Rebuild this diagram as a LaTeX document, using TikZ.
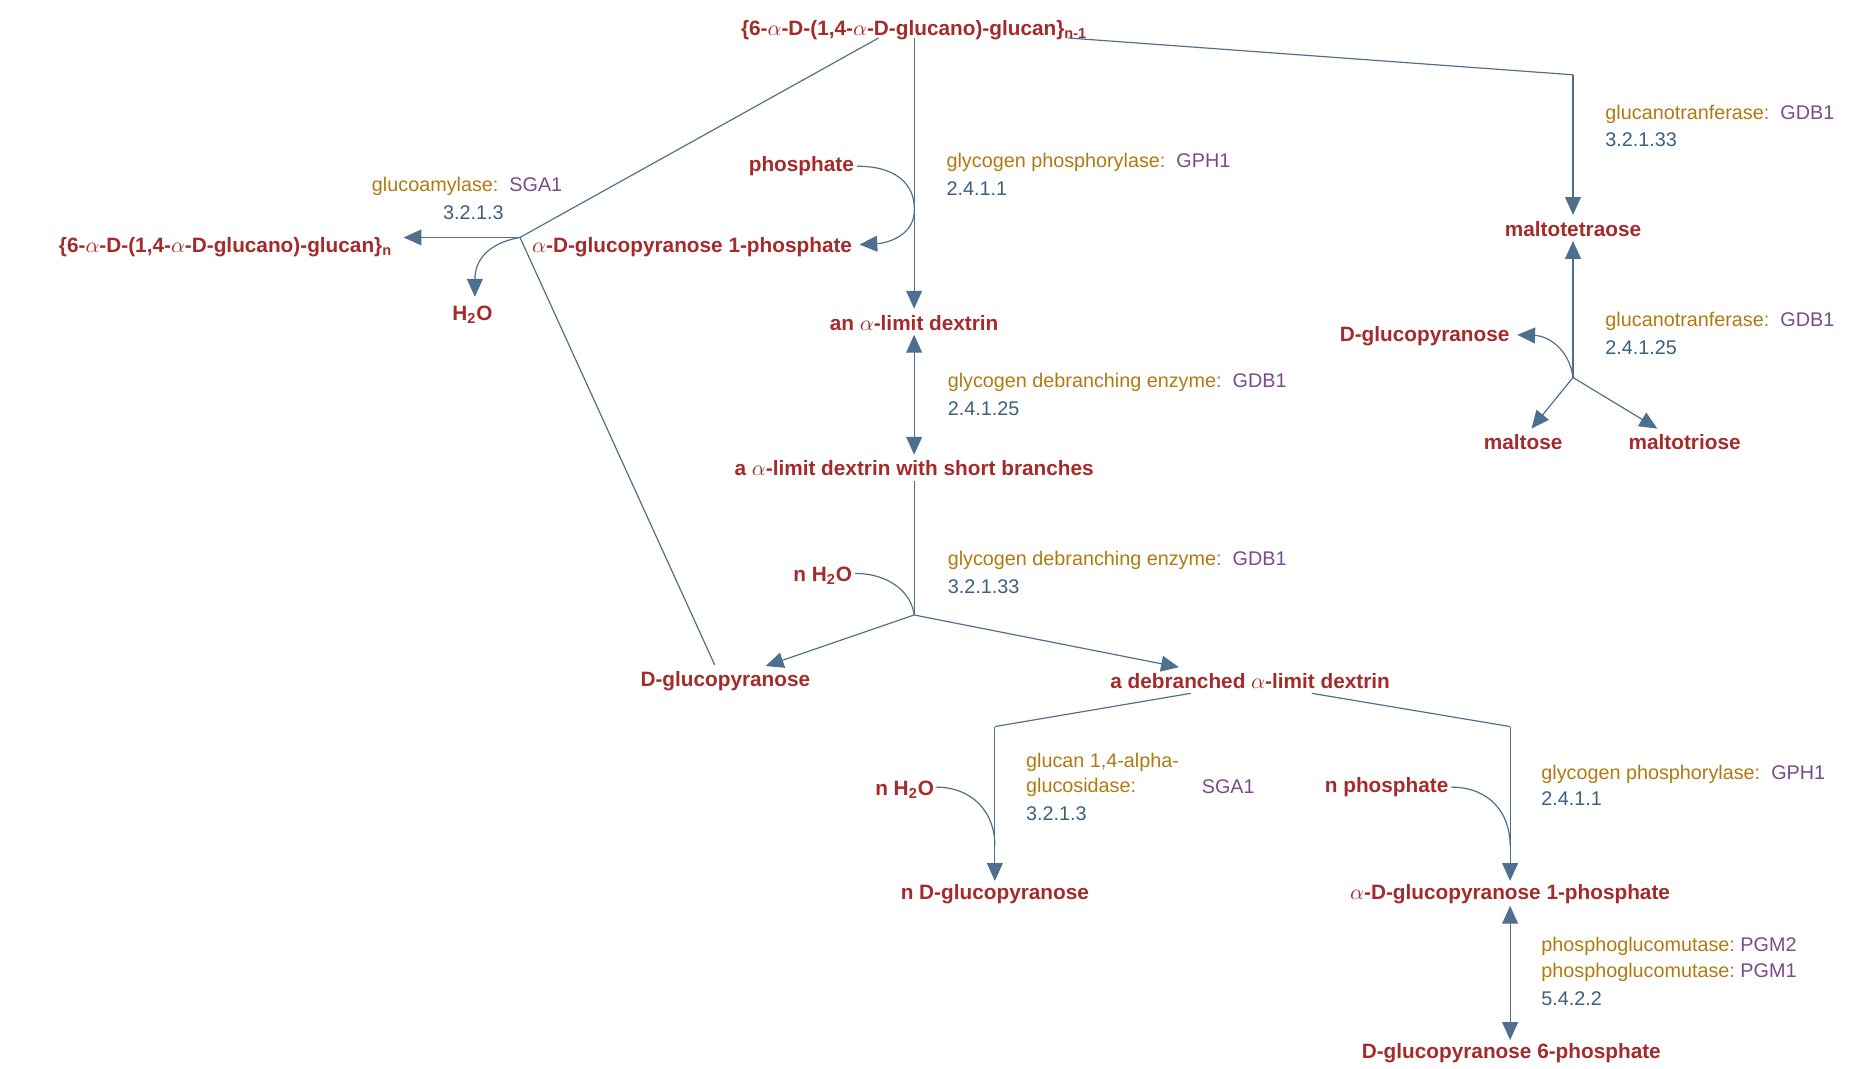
\documentclass[tikz,border=0pt]{standalone}
\usepackage{fontspec}
\setmainfont{Liberation Sans}
\usetikzlibrary{arrows.meta}
\definecolor{met}{HTML}{A52A2A}
\definecolor{enz}{HTML}{B07A10}
\definecolor{gen}{HTML}{7B4A8C}
\definecolor{ec}{HTML}{3B5F80}
\definecolor{ln}{HTML}{4F6F8F}
\newcommand{\al}{$\alpha$}
\begin{document}
\begin{tikzpicture}[x=0.6pt,y=-0.6pt,
 m/.style={text=met,font=\bfseries\fontsize{10.5}{12}\selectfont,inner sep=1pt},
 lab/.style={anchor=west,font=\fontsize{10}{12}\selectfont,inner sep=0pt},
 e/.style={draw=ln,line width=0.6pt},
 a/.style={e,-{Triangle[length=9pt,width=8pt]}},
 aa/.style={e,{Triangle[length=9pt,width=8pt]}-{Triangle[length=9pt,width=8pt]}}]
\useasboundingbox (0,0) rectangle (1560,900);
% metabolites
\node[m] (top) at (770,25) {\{6-\al-D-(1,4-\al-D-glucano)-glucan\}\textsubscript{n-1}};
\node[m] (gn) at (190,208) {\{6-\al-D-(1,4-\al-D-glucano)-glucan\}\textsubscript{n}};
\node[m] (h2o) at (398,265) {H\textsubscript{2}O};
\node[m] (g1p) at (583,208) {\al-D-glucopyranose 1-phosphate};
\node[m] (pi) at (675,140) {phosphate};
\node[m] (ald) at (770,272) {an \al-limit dextrin};
\node[m] (alds) at (770,394) {a \al-limit dextrin with short branches};
\node[m] (nh2o) at (693,485) {n H\textsubscript{2}O};
\node[m] (glcL) at (611,574) {D-glucopyranose};
\node[m] (deb) at (1053,574) {a debranched \al-limit dextrin};
\node[m] (nh2ob) at (762,665) {n H\textsubscript{2}O};
\node[m] (nglc) at (838,753) {n D-glucopyranose};
\node[m] (npi) at (1168,663) {n phosphate};
\node[m] (g1pR) at (1272,753) {\al-D-glucopyranose 1-phosphate};
\node[m] (g6p) at (1273,887) {D-glucopyranose 6-phosphate};
\node[m] (m4) at (1325,193) {maltotetraose};
\node[m] (glcR) at (1200,283) {D-glucopyranose};
\node[m] (m2) at (1283,372) {maltose};
\node[m] (m3) at (1419,372) {maltotriose};
% junctions
\coordinate (j1) at (438,200);
\coordinate (j3) at (1325,63);
\coordinate (j4) at (1325,318);
\coordinate (j5) at (770,518);
\coordinate (j6) at (838,612);
\coordinate (j7) at (838,712);
\coordinate (j8) at (1272,612);
\coordinate (j9) at (1272,712);
% SGA1 reaction
\draw[e] (740,32) -- (j1);
\draw[a] (j1) -- (340,200);
\draw[a] (j1) .. controls (410,205) and (400,220) .. (400,250);
\draw[e] (j1) -- (602,560);
\node[lab] at (313,157) {\textcolor{enz}{glucoamylase:}\ \ \textcolor{gen}{SGA1}};
\node[lab] at (373,179) {\textcolor{ec}{3.2.1.3}};
% GPH1
\draw[a] (770,32) -- (770,260);
\draw[a] (722,140) .. controls (760,140) and (772,160) .. (770,180) .. controls (768,200) and (745,205) .. (724,206);
\node[lab] at (797,137) {\textcolor{enz}{glycogen phosphorylase:}\ \ \textcolor{gen}{GPH1}};
\node[lab] at (797,159) {\textcolor{ec}{2.4.1.1}};
% glucanotransferase 3.2.1.33
\draw[e] (900,32) -- (j3);
\draw[a] (j3) -- (1325,181);
\node[lab] at (1352,96) {\textcolor{enz}{glucanotranferase:}\ \ \textcolor{gen}{GDB1}};
\node[lab] at (1352,118) {\textcolor{ec}{3.2.1.33}};
% glucanotransferase 2.4.1.25
\draw[a] (j4) -- (1325,203);
\draw[a] (j4) .. controls (1322,295) and (1305,283) .. (1278,282);
\draw[a] (j4) -- (1290,361);
\draw[a] (j4) -- (1396,361);
\node[lab] at (1352,271) {\textcolor{enz}{glucanotranferase:}\ \ \textcolor{gen}{GDB1}};
\node[lab] at (1352,293) {\textcolor{ec}{2.4.1.25}};
% debranching 2.4.1.25
\draw[aa] (770,282) -- (770,383);
\node[lab] at (798,322) {\textcolor{enz}{glycogen debranching enzyme:}\ \ \textcolor{gen}{GDB1}};
\node[lab] at (798,344) {\textcolor{ec}{2.4.1.25}};
% debranching 3.2.1.33
\draw[e] (770,405) -- (j5);
\draw[e] (720,483) .. controls (750,483) and (768,500) .. (j5);
\draw[a] (j5) -- (645,561);
\draw[a] (j5) -- (993,562);
\node[lab] at (798,472) {\textcolor{enz}{glycogen debranching enzyme:}\ \ \textcolor{gen}{GDB1}};
\node[lab] at (798,494) {\textcolor{ec}{3.2.1.33}};
% SGA1 glucosidase
\draw[e] (1003,584) -- (j6);
\draw[a] (j6) -- (838,742);
\draw[e] (788,663) .. controls (820,663) and (838,685) .. (j7);
\node[lab] at (864,642) {\textcolor{enz}{glucan 1,4-alpha-}};
\node[lab] at (864,663) {\textcolor{enz}{glucosidase:}};
\node[lab] at (1012,663) {\textcolor{gen}{SGA1}};
\node[lab] at (864,685) {\textcolor{ec}{3.2.1.3}};
% GPH1 right
\draw[e] (1105,584) -- (j8);
\draw[a] (j8) -- (1272,742);
\draw[e] (1222,663) .. controls (1255,663) and (1272,685) .. (j9);
\node[lab] at (1298,652) {\textcolor{enz}{glycogen phosphorylase:}\ \ \textcolor{gen}{GPH1}};
\node[lab] at (1298,673) {\textcolor{ec}{2.4.1.1}};
% PGM
\draw[aa] (1272,763) -- (1272,876);
\node[lab] at (1298,797) {\textcolor{enz}{phosphoglucomutase:}\ \textcolor{gen}{PGM2}};
\node[lab] at (1298,819) {\textcolor{enz}{phosphoglucomutase:}\ \textcolor{gen}{PGM1}};
\node[lab] at (1298,841) {\textcolor{ec}{5.4.2.2}};
\end{tikzpicture}
\end{document}
